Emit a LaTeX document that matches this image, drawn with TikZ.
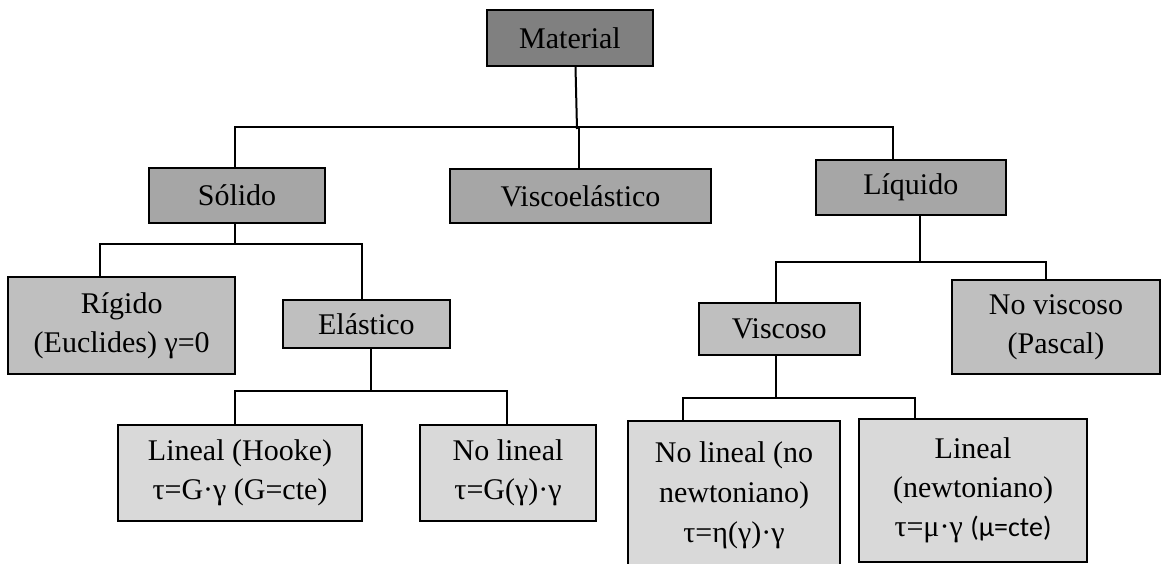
\documentclass[tikz,border=0pt]{standalone}
\usepackage{fontspec}
\setmainfont{Liberation Serif}
\newfontfamily\calibrifont{Carlito}
\usetikzlibrary{calc}
\definecolor{cMat}{HTML}{808080}
\definecolor{cLvA}{HTML}{A6A6A6}
\definecolor{cLvB}{HTML}{BFBFBF}
\definecolor{cLvC}{HTML}{D9D9D9}
\tikzset{
  box/.style={draw=black, line width=2pt, align=center, inner sep=0pt,
    font=\fontsize{30}{39}\selectfont, text=black},
  boxMat/.style={box, fill=cMat},
  boxA/.style={box, fill=cLvA},
  boxB/.style={box, fill=cLvB},
  boxC/.style={box, fill=cLvC},
  conn/.style={line width=2pt, draw=black},
}
\begin{document}
\begin{tikzpicture}[x=1pt, y=-1pt]
\useasboundingbox (0,0) rectangle (1163,564);
\clip (0,0) rectangle (1163,564);
% level 0
\node[boxMat, minimum width=166pt, minimum height=56pt] (mat) at (570,38) {Material};
% level 1
\node[boxA, minimum width=176pt, minimum height=55pt] (sol) at (237,195.5) {Sólido};
\node[boxA, minimum width=261pt, minimum height=54.5pt] (vis) at (580.5,196) {Viscoelástico};
\node[boxA, minimum width=189.5pt, minimum height=55.5pt] (liq) at (910.75,187.75) {Líquido};
% level 2
\node[boxB, minimum width=226.6pt, minimum height=97pt] (rig) at (121.7,325.5) {Rígido\\(Euclides) γ=0};
\node[boxB, minimum width=166.7pt, minimum height=48.3pt] (ela) at (366.4,324) {Elástico};
\node[boxB, minimum width=160.7pt, minimum height=51.7pt] (vso) at (779.3,329) {Viscoso};
\node[boxB, minimum width=207.7pt, minimum height=94pt] (nvs) at (1056,327) {No viscoso\\(Pascal)};
% level 3
\node[boxC, minimum width=244pt, minimum height=96pt] (hoo) at (240,473) {Lineal (Hooke)\\τ=G·γ (G=cte)};
\node[boxC, minimum width=176pt, minimum height=96pt] (nlh) at (508,473) {No lineal\\τ=G(γ)·γ};
\node[boxC, minimum width=212.6pt, minimum height=149.6pt, font=\fontsize{30}{40}\selectfont] (nln) at (734,495.5) {No lineal (no\\newtoniano)\\τ=η(γ)·γ};
\node[boxC, minimum width=228.6pt, minimum height=142.4pt, font=\fontsize{30}{39}\selectfont] (lnn) at (973,490.5) {Lineal\\(newtoniano)\\τ=μ·γ {\calibrifont\fontsize{28}{39}\selectfont (μ=cte)}};
% connectors: Material
\draw[conn] ($(mat.south)+(5.5,0)$) -- ++(1.5,62) coordinate (j0);
\draw[conn] ($(sol.north)+(-2,0)$) -- ++(0,-40) -| ($(liq.north)+(-17.75,0)$);
\draw[conn] ($(vis.north)+(-1.5,0)$) -- ++(0,-41);
% Solido
\draw[conn] ($(sol.south)+(-2,0)$) -- ++(0,20) coordinate (j2);
\draw[conn] ($(rig.north)+(-21.7,0)$) |- (j2) -| ($(ela.north)+(-4.4,0)$);
% Elastico
\draw[conn] ($(ela.south)+(4.6,0)$) -- ++(0,41.85) coordinate (j3);
\draw[conn] ($(hoo.north)+(-5,0)$) |- (j3) -| ($(nlh.north)+(-1,0)$);
% Liquido
\draw[conn] ($(liq.south)+(9.25,0)$) -- ++(0,45.5) coordinate (j4);
\draw[conn] ($(vso.north)+(-3.3,0)$) |- (j4) -| ($(nvs.north)+(-10,2.5)$);
% Viscoso
\draw[conn] ($(vso.south)+(-3.3,0)$) -- ++(0,42.15) coordinate (j5);
\draw[conn] ($(nln.north)+(-51,0)$) |- (j5) -| ($(lnn.north)+(-58,1.5)$);
\end{tikzpicture}
\end{document}
